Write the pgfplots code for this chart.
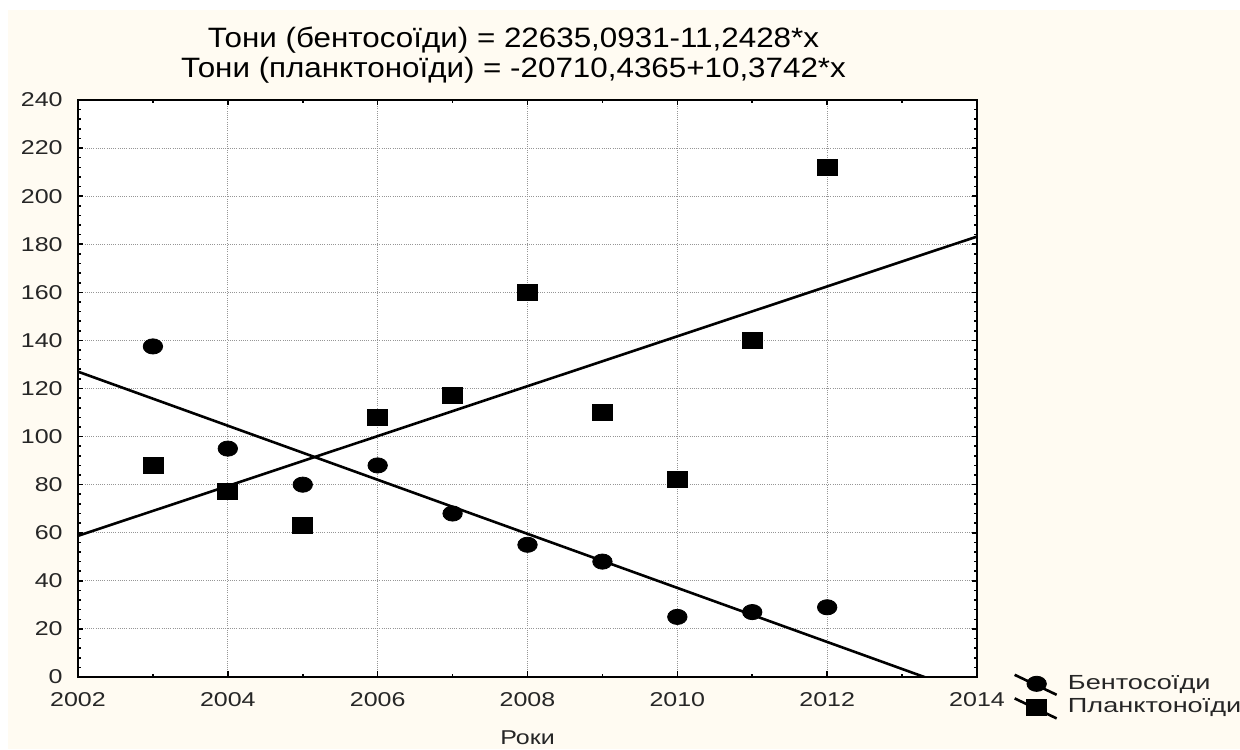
\documentclass[border=0pt]{standalone}
\usepackage{fontspec}
\setmainfont{Liberation Sans}
\newfontfamily\titlefont[FakeStretch=1.12]{Liberation Sans}
\newfontfamily\tickfont[FakeStretch=1.25]{Liberation Sans}
\newfontfamily\legendfont[FakeStretch=1.33]{Liberation Sans}
\usepackage{pgfplots}
\usepackage{pgfplotstable}
\pgfplotsset{compat=1.18}

\definecolor{paper}{RGB}{255,251,242}
\definecolor{gridgray}{RGB}{150,150,150}

% annual catch, tonnes
\pgfplotstableread{
year benthos plankton
2003 137.5 88
2004 95    77
2005 80    63
2006 88    108
2007 68    117
2008 55    160
2009 48    110
2010 25    82
2011 27    140
2012 29    212
}\catchdata

\begin{document}
\begin{tikzpicture}
\useasboundingbox (0,0) rectangle (620pt,374.5pt);
\clip (0,0) rectangle (620pt,374.5pt);
\fill[white] (0,0) rectangle (620pt,374.5pt);
\fill[paper] (4pt,0) rectangle (620pt,369.5pt);
\begin{axis}[
  at={(39pt,36pt)}, anchor=south west,
  scale only axis, width=449.5pt, height=288.5pt,
  xmin=2002, xmax=2014, ymin=0, ymax=240,
  xtick distance=2, ytick distance=20,
  minor x tick num=1, minor y tick num=4,
  tick align=inside,
  major tick length=2.75pt, minor tick length=1.75pt,
  every tick/.style={black, line width=0.8pt},
  axis line style={black, line width=0.9pt},
  axis background/.style={fill=white},
  grid=major,
  major grid style={gridgray, line width=0.5pt, dash pattern=on 0.5pt off 0.6pt},
  /pgf/number format/1000 sep={},
  /pgf/number format/assume math mode=true,
  ticklabel style={font=\tickfont\fontsize{10}{12}\selectfont, text=black!85},
  yticklabel style={anchor=east, inner sep=0pt, xshift=-7.5pt},
  xticklabel style={anchor=north, inner sep=0pt, yshift=-7.5pt},
  xlabel={Роки},
  xlabel style={at={(axis description cs:0.5,0)}, anchor=north, inner sep=0pt,
    yshift=-26.5pt, font=\tickfont\fontsize{10}{12}\selectfont, text=black!85},
  legend style={at={(axis description cs:1.040,-0.034)}, anchor=west,
    draw=none, fill=none, inner sep=0pt, row sep=0.5pt,
    font=\legendfont\fontsize{10.2}{12}\selectfont, text=black!85,
    nodes={inner sep=0pt},
    /tikz/every odd column/.append style={column sep=5pt}},
  legend cell align=left,
]
% linear fits
\addplot[black, line width=1.3pt, forget plot] coordinates {(2002,127.0075) (2014,-7.9061)};
\addplot[black, line width=1.3pt, forget plot] coordinates {(2002,58.7119) (2014,183.2023)};

\addplot[only marks, mark=*, mark size=3.8pt,
  mark options={xscale=1.28, fill=black, draw=black},
  legend image code/.code={
    \draw[black, line width=1.3pt] (0pt,4.5pt) -- (21pt,-5.5pt);
    \path plot[mark=*, mark size=3.8pt, mark options={xscale=1.28, fill=black, draw=black}] coordinates {(11pt,0pt)};
  }] table[x=year, y=benthos] {\catchdata};
\addlegendentry{Бентосоїди}

\addplot[only marks, mark=square*, mark size=4pt,
  mark options={xscale=1.25, fill=black, draw=black},
  legend image code/.code={
    \draw[black, line width=1.3pt] (0pt,4.5pt) -- (21pt,-5.5pt);
    \path plot[mark=square*, mark size=4pt, mark options={xscale=1.25, fill=black, draw=black}] coordinates {(11pt,0pt)};
  }] table[x=year, y=plankton] {\catchdata};
\addlegendentry{Планктоноїди}
\end{axis}

\node[font=\titlefont\fontsize{14}{17}\selectfont, anchor=base] at (256.75pt,350.5pt)
  {Тони (бентосоїди) = 22635,0931-11,2428*x};
\node[font=\titlefont\fontsize{14}{17}\selectfont, anchor=base] at (256.75pt,335.5pt)
  {Тони (планктоноїди) = -20710,4365+10,3742*x};
\end{tikzpicture}
\end{document}
